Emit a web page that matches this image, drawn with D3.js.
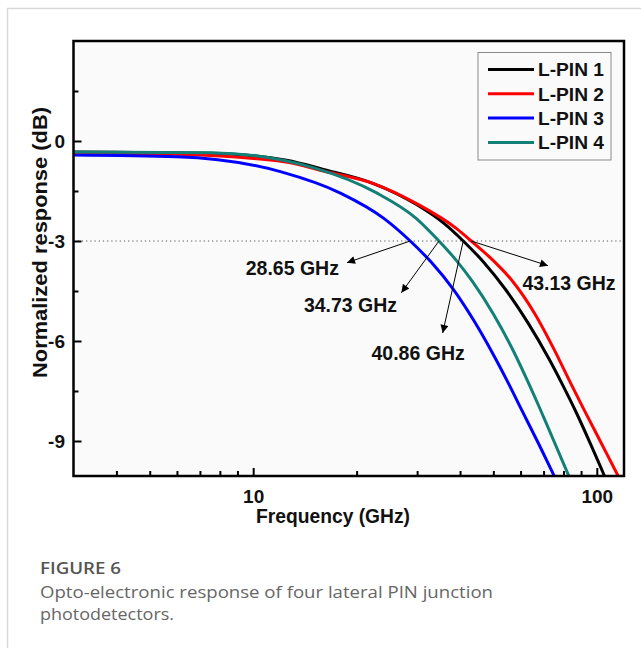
<!DOCTYPE html>
<html>
<head>
<meta charset="utf-8">
<script src="https://cdn.jsdelivr.net/npm/d3@7"></script>
<style>
  html, body { margin: 0; padding: 0; background: #ffffff; }
  svg { display: block; }
</style>
</head>
<body>
<svg id="chart" width="641" height="648"></svg>
<script>
// ---- data (frequency in GHz, normalized response in dB) ----
const seriesNames = ["L-PIN 1", "L-PIN 2", "L-PIN 3", "L-PIN 4"];
const seriesColors = ["#000000", "#ff0000", "#0000ff", "#138078"];

const pin1Freq = [3, 7.5, 12.5, 16, 22.3, 29.8, 36, 40.86, 47, 54.4, 63, 72.7, 80, 87, 96, 105, 112];
const pin1Db   = [-0.33, -0.37, -0.58, -0.85, -1.27, -1.9, -2.48, -3.0, -3.65, -4.47, -5.45, -6.55, -7.37, -8.13, -9.1, -10.02, -10.68];

const pin2Freq = [3, 6, 12.3, 16, 22.3, 29.8, 39.0, 43.13, 50, 56.8, 66, 75.1, 84, 92, 103, 115, 120];
const pin2Db   = [-0.35, -0.4, -0.62, -0.9, -1.27, -1.87, -2.62, -3.0, -3.59, -4.2, -5.18, -6.25, -7.27, -8.08, -9.06, -10.02, -10.4];

const pin3Freq = [3, 6, 12, 18, 24, 28.65, 33, 38.1, 44, 49.7, 55, 60.8, 68, 75.1, 80];
const pin3Db   = [-0.42, -0.47, -0.92, -1.57, -2.32, -3.0, -3.64, -4.43, -5.41, -6.36, -7.22, -8.12, -9.12, -10.04, -10.6];

const pin4Freq = [3, 7.5, 15.2, 22.8, 29.8, 34.73, 39, 43.5, 50, 56.8, 62, 68, 75, 83, 88];
const pin4Db   = [-0.33, -0.35, -0.82, -1.55, -2.32, -3.0, -3.58, -4.22, -5.19, -6.24, -7.06, -7.98, -9.0, -10.06, -10.67];

const allFreq = [pin1Freq, pin2Freq, pin3Freq, pin4Freq];
const allDb   = [pin1Db, pin2Db, pin3Db, pin4Db];

const xDomain = [3, 120];
const yDomain = [-10.05, 3];
const xMajorTicks = [10, 100];
const xMinorTicks = [4, 5, 6, 7, 8, 9, 20, 30, 40, 50, 60, 70, 80, 90];
const yMajorTicks = [0, -3, -6, -9];
const yMinorTicks = [1.5, -1.5, -4.5, -7.5];
const thresholdDb = -3;

// annotations: label, crossing frequency, label centre (f, dB), arrow tip (f, dB)
const annoText   = ["28.65 GHz", "34.73 GHz", "40.86 GHz", "43.13 GHz"];
const annoCross  = [28.65, 34.73, 40.86, 43.13];
const annoLabelF = [13.0, 19.2, 30.2, 83.0];
const annoLabelD = [-3.82, -4.92, -6.37, -4.27];
const annoTipF   = [18.75, 27.0, 35.6, 72.1];
const annoTipD   = [-3.65, -4.55, -5.76, -3.74];

const captionTitle = "FIGURE 6";
const captionLines = ["Opto-electronic response of four lateral PIN junction", "photodetectors."];

// ---- layout ----
const svg = d3.select("#chart");
const pL = 73.5, pR = 624, pT = 41, pB = 476;
const x = d3.scaleLog().domain(xDomain).range([pL, pR]);
const y = d3.scaleLinear().domain(yDomain).range([pB, pT]);
const FONT = "'Liberation Sans', Arial, sans-serif";

// card
svg.append("rect").attr("x", 7.5).attr("y", 8.5).attr("width", 700).attr("height", 700)
  .attr("fill", "#ffffff").attr("stroke", "#d9d9d9").attr("stroke-width", 1.5);

// plot background
svg.append("rect").attr("x", pL).attr("y", pT).attr("width", pR - pL).attr("height", pB - pT)
  .attr("fill", "#fafafb");

// clip
svg.append("clipPath").attr("id", "plotclip").append("rect")
  .attr("x", pL).attr("y", pT).attr("width", pR - pL).attr("height", pB - pT);

// threshold dotted line
svg.append("line").attr("x1", pL).attr("x2", pR).attr("y1", y(thresholdDb)).attr("y2", y(thresholdDb))
  .attr("stroke", "#555").attr("stroke-width", 1).attr("stroke-dasharray", "1.2,3");

// curves
const line = d3.line().x(d => x(d[0])).y(d => y(d[1])).curve(d3.curveMonotoneX);
const g = svg.append("g").attr("clip-path", "url(#plotclip)");
allFreq.forEach((fr, i) => {
  const pts = fr.map((f, j) => [f, allDb[i][j]]);
  g.append("path").datum(pts).attr("d", line).attr("fill", "none")
    .attr("stroke", seriesColors[i]).attr("stroke-width", 3).attr("stroke-linejoin", "round");
});

// arrow marker
svg.append("defs").append("marker").attr("id", "ah").attr("viewBox", "0 0 10 10")
  .attr("refX", 10).attr("refY", 5).attr("markerWidth", 11).attr("markerHeight", 8)
  .attr("markerUnits", "userSpaceOnUse").attr("orient", "auto")
  .append("path").attr("d", "M0,0 L10,5 L0,10 Z").attr("fill", "#000");

annoText.forEach((t, i) => {
  svg.append("line")
    .attr("x1", x(annoCross[i])).attr("y1", y(thresholdDb))
    .attr("x2", x(annoTipF[i])).attr("y2", y(annoTipD[i]))
    .attr("stroke", "#000").attr("stroke-width", 1).attr("marker-end", "url(#ah)");
  svg.append("text").attr("x", x(annoLabelF[i])).attr("y", y(annoLabelD[i])).attr("dy", "0.36em")
    .attr("text-anchor", "middle").attr("font-family", FONT).attr("font-weight", "bold")
    .attr("font-size", 19.5).attr("fill", "#111").text(t);
});

// frame
svg.append("rect").attr("x", pL).attr("y", pT).attr("width", pR - pL).attr("height", pB - pT)
  .attr("fill", "none").attr("stroke", "#000").attr("stroke-width", 2.5);

// x axis (ticks inward)
const xAxis = d3.axisBottom(x).tickValues(xMajorTicks).tickSize(-8).tickPadding(13.5).tickFormat(d => String(d));
const xg = svg.append("g").attr("transform", `translate(0,${pB})`).call(xAxis);
xg.select(".domain").remove();
xg.selectAll(".tick line").attr("stroke", "#000").attr("stroke-width", 2);
xg.selectAll(".tick text").attr("font-family", FONT).attr("font-weight", "bold").attr("font-size", 19).attr("fill", "#111");
const xmg = svg.append("g").attr("transform", `translate(0,${pB})`)
  .call(d3.axisBottom(x).tickValues(xMinorTicks).tickSize(-5).tickFormat(""));
xmg.select(".domain").remove();
xmg.selectAll(".tick line").attr("stroke", "#000").attr("stroke-width", 2);

// y axis
const yAxis = d3.axisLeft(y).tickValues(yMajorTicks).tickSize(-8).tickPadding(8.5).tickFormat(d => String(d));
const yg = svg.append("g").attr("transform", `translate(${pL},0)`).call(yAxis);
yg.select(".domain").remove();
yg.selectAll(".tick line").attr("stroke", "#000").attr("stroke-width", 2);
yg.selectAll(".tick text").attr("font-family", FONT).attr("font-weight", "bold").attr("font-size", 19).attr("fill", "#111");
const ymg = svg.append("g").attr("transform", `translate(${pL},0)`)
  .call(d3.axisLeft(y).tickValues(yMinorTicks).tickSize(-5).tickFormat(""));
ymg.select(".domain").remove();
ymg.selectAll(".tick line").attr("stroke", "#000").attr("stroke-width", 2);

// axis titles
svg.append("text").attr("x", 333).attr("y", 523).attr("text-anchor", "middle")
  .attr("font-family", FONT).attr("font-weight", "bold").attr("font-size", 19.5).attr("fill", "#111")
  .attr("textLength", 154).attr("lengthAdjust", "spacingAndGlyphs").text("Frequency (GHz)");
svg.append("text").attr("transform", "translate(46.5,242.5) rotate(-90)").attr("text-anchor", "middle")
  .attr("font-family", FONT).attr("font-weight", "bold").attr("font-size", 20).attr("fill", "#111")
  .attr("textLength", 271).attr("lengthAdjust", "spacingAndGlyphs").text("Normalized response (dB)");

// legend
const lg = svg.append("g");
lg.append("rect").attr("x", 478).attr("y", 52.5).attr("width", 133).attr("height", 107.5)
  .attr("fill", "#fafafb").attr("stroke", "#8a8a8a").attr("stroke-width", 1);
seriesNames.forEach((n, i) => {
  const cy = 69.5 + i * 24.3;
  lg.append("line").attr("x1", 488).attr("x2", 534).attr("y1", cy).attr("y2", cy)
    .attr("stroke", seriesColors[i]).attr("stroke-width", 3);
  lg.append("text").attr("x", 538).attr("y", cy).attr("dy", "0.36em")
    .attr("font-family", FONT).attr("font-weight", "bold").attr("font-size", 19).attr("fill", "#111")
    .attr("textLength", 66).attr("lengthAdjust", "spacingAndGlyphs")
    .text(n);
});

// caption
svg.append("text").attr("x", 40).attr("y", 574).attr("font-family", "'Open Sans', sans-serif")
  .attr("font-weight", 600).attr("font-size", 16.5).attr("fill", "#555")
  .attr("textLength", 81).attr("lengthAdjust", "spacingAndGlyphs").text(captionTitle);
const capLens = [453, 134];
captionLines.forEach((t, i) => {
  svg.append("text").attr("x", 40).attr("y", 598 + i * 22).attr("font-family", "'Open Sans', sans-serif")
    .attr("font-size", 17).attr("fill", "#666")
    .attr("textLength", capLens[i]).attr("lengthAdjust", "spacingAndGlyphs").text(t);
});
</script>
</body>
</html>
